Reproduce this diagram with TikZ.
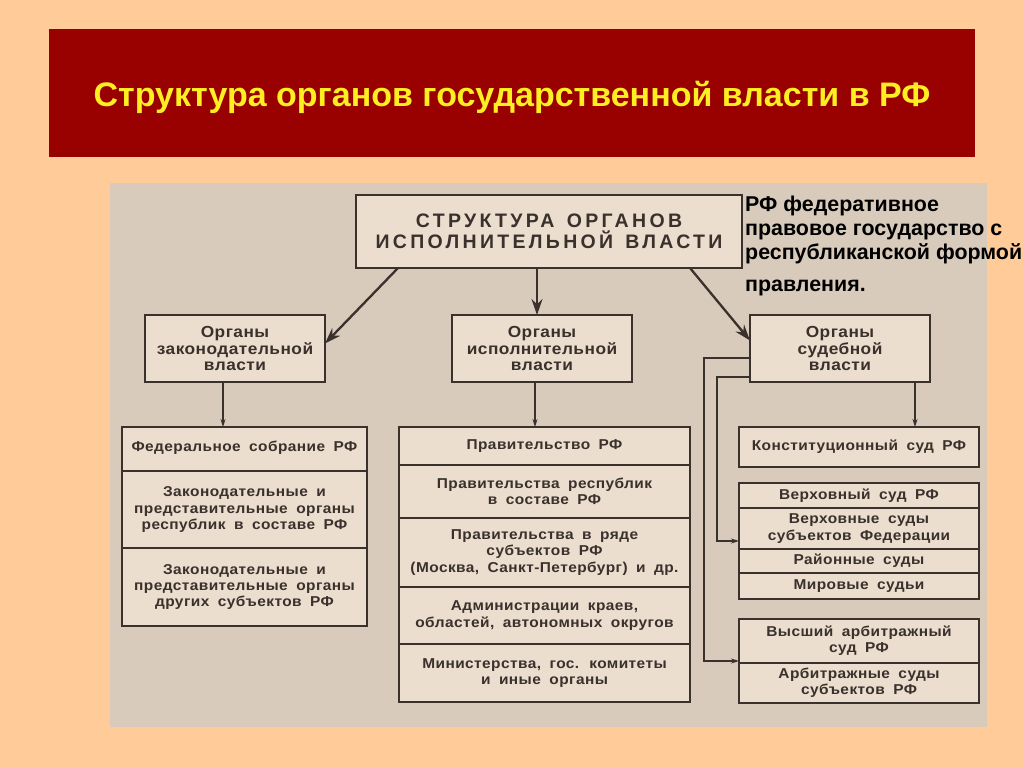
\documentclass[tikz,border=0pt]{standalone}
\usepackage{fontspec}
\setmainfont{Liberation Sans}
\newfontfamily\boxfont{Liberation Sans}[FakeStretch=1.08,LetterSpace=3,WordSpace=1.8]
\newfontfamily\capsfont{Liberation Sans}[LetterSpace=17,WordSpace=1.4]
\usetikzlibrary{arrows.meta}
\definecolor{peach}{HTML}{FECB99}
\definecolor{banner}{HTML}{990000}
\definecolor{ttl}{HTML}{FFEE22}
\definecolor{panel}{HTML}{D8CBBB}
\definecolor{boxfill}{HTML}{EBDECE}
\definecolor{ink}{HTML}{3A302C}
\tikzset{
  box/.style={draw=ink, fill=boxfill, line width=1.3pt, inner sep=0pt, outer sep=0pt, align=center, text=ink},
  lvl/.style={box, minimum width=180, minimum height=67, font=\boxfont\bfseries\fontsize{16}{16.5}\selectfont},
  stack/.style={box, line width=1.8pt},
  row/.style={draw=ink, line width=1.2pt, inner sep=0pt, outer sep=0pt, align=center, text=ink, font=\boxfont\bfseries\fontsize{14.3}{16.3}\selectfont},
  big/.style={draw=ink, line width=2.3pt, -{Stealth[length=16pt,width=11pt]}},
  thinarr/.style={draw=ink, line width=1.1pt, -{Stealth[length=8pt,width=5pt]}}
}
\begin{document}
\begin{tikzpicture}[x=1pt,y=-1pt]
\fill[peach] (0,0) rectangle (1024,767);
\useasboundingbox (0,0) rectangle (1024,767);
\fill[banner] (49,29) rectangle (975,157);
\node[text=ttl, font=\bfseries\fontsize{34}{38}\selectfont, inner sep=0pt] (title) at (512,97) {Структура органов государственной власти в РФ};
\fill[panel] (110,183) rectangle (987,727);

% top box
\node[box, line width=2.6pt, minimum width=386, minimum height=73, font=\capsfont\bfseries\fontsize{19.5}{20.5}\selectfont] (top) at (549,231.5) {СТРУКТУРА ОРГАНОВ\\ИСПОЛНИТЕЛЬНОЙ ВЛАСТИ};

% note
\node[anchor=north west, align=left, inner sep=0pt, font=\bfseries\fontsize{21.4}{24}\selectfont, text=black] (note) at (745,196) {РФ федеративное\\правовое государство с\\республиканской формой\\[8pt]правления.};

% level 2
\node[lvl] (leg) at (235,348.5) {Органы\\законодательной\\власти};
\node[lvl] (exe) at (542,348.5) {Органы\\исполнительной\\власти};
\node[lvl] (jud) at (840,348.5) {Органы\\судебной\\власти};

% left stack
\node[stack, minimum width=245, minimum height=199] (fed) at (244.5,526.5) {};
\node[row, minimum width=245, minimum height=44] (f1) at (244.5,449) {\raisebox{6pt}{Федеральное собрание РФ}};
\node[row, minimum width=245, minimum height=77] (f2) at (244.5,509.5) {Законодательные и\\представительные органы\\республик в составе РФ};
\node[row, minimum width=245, minimum height=78] (f3) at (244.5,587) {Законодательные и\\представительные органы\\других субъектов РФ};

% middle stack
\node[stack, minimum width=291, minimum height=275] (gov) at (544.5,564.5) {};
\node[row, minimum width=291, minimum height=38] (g1) at (544.5,446) {Правительство РФ};
\node[row, minimum width=291, minimum height=53] (g2) at (544.5,491.5) {Правительства республик\\в составе РФ};
\node[row, minimum width=291, minimum height=69] (g3) at (544.5,552.5) {Правительства в ряде\\субъектов РФ\\(Москва, Санкт-Петербург) и др.};
\node[row, minimum width=291, minimum height=57] (g4) at (544.5,615.5) {Администрации краев,\\областей, автономных округов};
\node[row, minimum width=291, minimum height=58] (g5) at (544.5,673) {Министерства, гос. комитеты\\и иные органы};

% right
\node[stack, minimum width=240, minimum height=40] (konst) at (859,447) {};
\node[row, minimum width=240, minimum height=40] (k1) at (859,447) {Конституционный суд РФ};

\node[stack, line width=2.2pt, minimum width=240, minimum height=116] (sup) at (859,541) {};
\node[row, minimum width=240, minimum height=25] (s1) at (859,495.5) {Верховный суд РФ};
\node[row, minimum width=240, minimum height=41] (s2) at (859,528.5) {Верховные суды\\субъектов Федерации};
\node[row, minimum width=240, minimum height=24] (s3) at (859,561) {Районные суды};
\node[row, minimum width=240, minimum height=26] (s4) at (859,586) {Мировые судьи};

\node[stack, line width=2.2pt, minimum width=240, minimum height=84] (arb) at (859,661) {};
\node[row, minimum width=240, minimum height=44] (a1) at (859,641) {Высший арбитражный\\суд РФ};
\node[row, minimum width=240, minimum height=40] (a2) at (859,683) {Арбитражные суды\\субъектов РФ};

% connectors
\draw[big] ([xshift=42pt]top.south west) -- ([yshift=5pt]leg.east);
\draw[big] ([xshift=-12pt]top.south) -- ([xshift=-12pt]top.south |- exe.north);
\draw[big] ([xshift=-52pt]top.south east) -- ([yshift=8pt]jud.west);

\draw[thinarr] ([xshift=-12pt]leg.south) -- ([xshift=-12pt]leg.south |- fed.north);
\draw[thinarr] ([xshift=-7pt]exe.south) -- ([xshift=-7pt]exe.south |- gov.north);
\draw[thinarr] ([xshift=-15pt]jud.south east) -- ([xshift=-15pt]jud.south east |- konst.north);
\draw[thinarr] ([yshift=-9.5pt]jud.west) -- ++(-46,0) |- (arb.west);
\draw[thinarr] ([yshift=-28.5pt]jud.west) -- ++(-33,0) |- (sup.west);
\end{tikzpicture}
\end{document}
